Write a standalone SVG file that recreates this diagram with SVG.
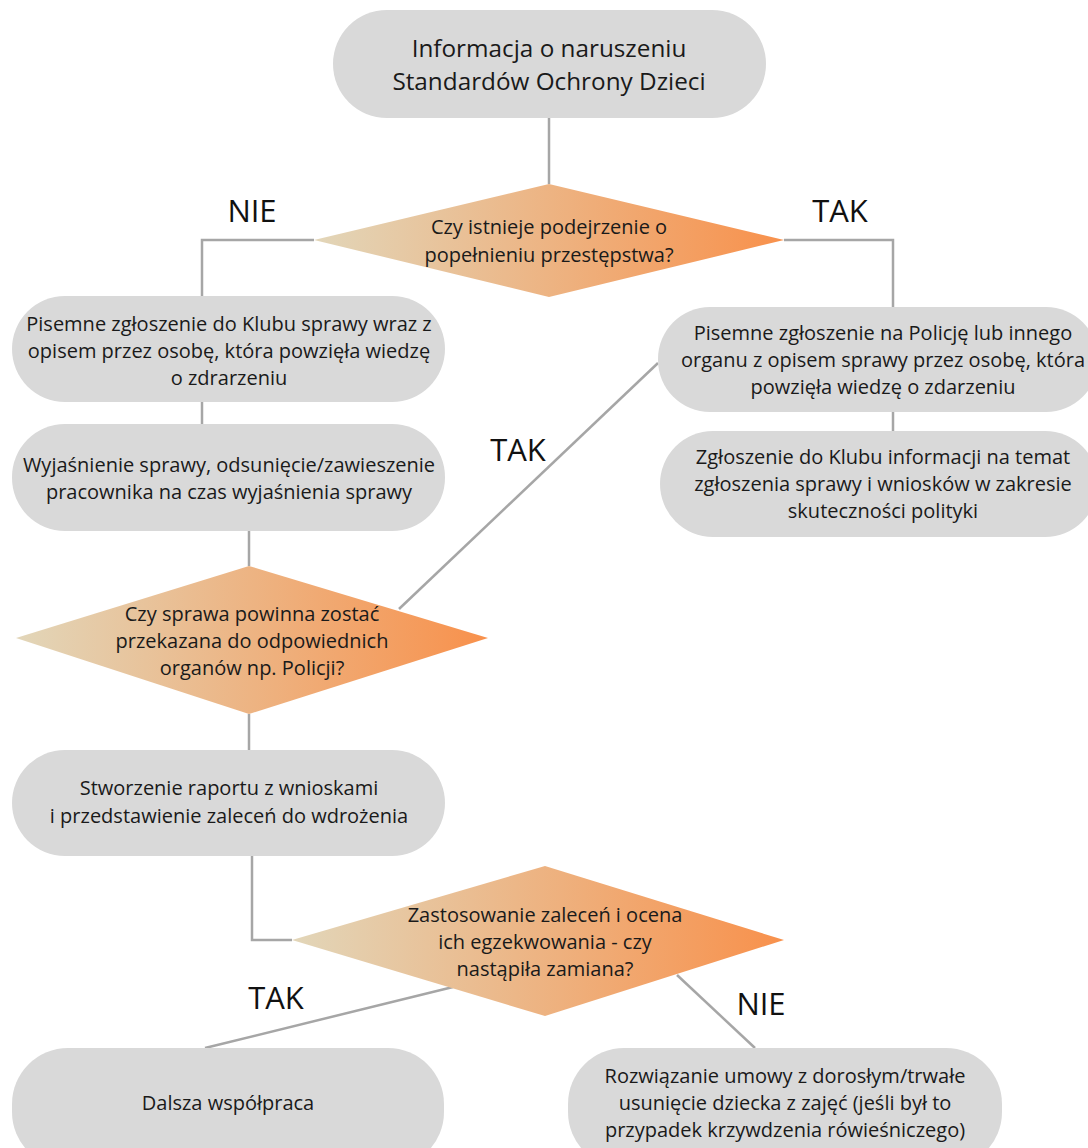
<svg xmlns="http://www.w3.org/2000/svg" width="1088" height="1148" viewBox="0 0 1088 1148">
<defs>
<linearGradient id="g" x1="0" y1="0" x2="1" y2="0">
<stop offset="0" stop-color="#e2d6b9"/>
<stop offset="1" stop-color="#f8914c"/>
</linearGradient>
<style>
.box{fill:#d9d9d9}
.dia{fill:url(#g)}
.t{font-family:"Open Sans","Liberation Sans",sans-serif;font-size:20px;fill:#1a1a1a;text-anchor:middle}
.big{font-size:24.3px}
.lab{font-family:"Open Sans","Liberation Sans",sans-serif;font-size:31px;fill:#111;text-anchor:middle}
.c{fill:none;stroke:#a6a6a6;stroke-width:2.5}
</style>
</defs>
<rect width="1088" height="1148" fill="#fff"/>
<g id="connectors">
<path class="c" d="M549 118V184"/>
<path class="c" d="M314 240H202V296"/>
<path class="c" d="M784 240H893V307"/>
<path class="c" d="M202 402V424"/>
<path class="c" d="M249 531V566"/>
<path class="c" d="M399 609L658 363"/>
<path class="c" d="M893 412V431"/>
<path class="c" d="M249 714V750"/>
<path class="c" d="M252 856V940H292"/>
<path class="c" d="M453 987L205 1048"/>
<path class="c" d="M677 975L755 1048"/>
</g>
<g id="labels">
<text class="lab" x="252" y="222">NIE</text>
<text class="lab" x="840" y="222">TAK</text>
<text class="lab" x="518" y="461">TAK</text>
<text class="lab" x="276" y="1009">TAK</text>
<text class="lab" x="761" y="1015">NIE</text>
</g>
<g id="start">
<rect class="box" x="333" y="10" width="433" height="108" rx="54"/>
<text class="t big" x="549" y="57">Informacja o naruszeniu</text>
<text class="t big" x="549" y="90">Standardów Ochrony Dzieci</text>
</g>
<g id="d1">
<polygon class="dia" points="549,184 784,240 549,297 314,240"/>
<text class="t" x="549" y="234">Czy istnieje podejrzenie o</text>
<text class="t" x="549" y="262">popełnieniu przestępstwa?</text>
</g>
<g id="l1">
<rect class="box" x="12" y="296" width="433" height="106" rx="53"/>
<text class="t" x="229" y="331">Pisemne zgłoszenie do Klubu sprawy wraz z</text>
<text class="t" x="229" y="358">opisem przez osobę, która powzięła wiedzę</text>
<text class="t" x="229" y="385">o zdrarzeniu</text>
</g>
<g id="l2">
<rect class="box" x="12" y="424" width="433" height="107" rx="53"/>
<text class="t" x="229" y="472">Wyjaśnienie sprawy, odsunięcie/zawieszenie</text>
<text class="t" x="229" y="499">pracownika na czas wyjaśnienia sprawy</text>
</g>
<g id="r1">
<rect class="box" x="658" y="307" width="440" height="105" rx="52"/>
<text class="t" x="883" y="340">Pisemne zgłoszenie na Policję lub innego</text>
<text class="t" x="883" y="367">organu z opisem sprawy przez osobę, która</text>
<text class="t" x="883" y="394">powzięła wiedzę o zdarzeniu</text>
</g>
<g id="r2">
<rect class="box" x="660" y="431" width="438" height="106" rx="53"/>
<text class="t" x="883" y="464">Zgłoszenie do Klubu informacji na temat</text>
<text class="t" x="883" y="491">zgłoszenia sprawy i wniosków w zakresie</text>
<text class="t" x="883" y="518">skuteczności polityki</text>
</g>
<g id="d2">
<polygon class="dia" points="249,566 488,638 249,714 16,638"/>
<text class="t" x="252" y="621">Czy sprawa powinna zostać</text>
<text class="t" x="252" y="648">przekazana do odpowiednich</text>
<text class="t" x="252" y="675">organów np. Policji?</text>
</g>
<g id="l3">
<rect class="box" x="12" y="750" width="433" height="106" rx="53"/>
<text class="t" x="229" y="795">Stworzenie raportu z wnioskami</text>
<text class="t" x="229" y="823">i przedstawienie zaleceń do wdrożenia</text>
</g>
<g id="d3">
<polygon class="dia" points="545,866 784,940 545,1016 292,940"/>
<text class="t" x="545" y="922">Zastosowanie zaleceń i ocena</text>
<text class="t" x="545" y="949">ich egzekwowania - czy</text>
<text class="t" x="545" y="976">nastąpiła zamiana?</text>
</g>
<g id="b1">
<rect class="box" x="12" y="1048" width="432" height="120" rx="56"/>
<text class="t" x="228" y="1110">Dalsza współpraca</text>
</g>
<g id="b2">
<rect class="box" x="568" y="1048" width="434" height="120" rx="56"/>
<text class="t" x="785" y="1083">Rozwiązanie umowy z dorosłym/trwałe</text>
<text class="t" x="785" y="1110">usunięcie dziecka z zajęć (jeśli był to</text>
<text class="t" x="785" y="1137">przypadek krzywdzenia rówieśniczego)</text>
</g>
</svg>
